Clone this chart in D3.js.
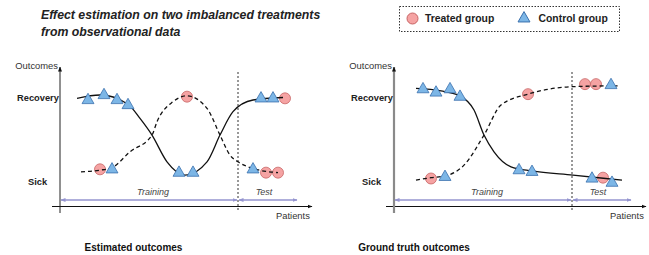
<!DOCTYPE html>
<html>
<head>
<meta charset="utf-8">
<script src="https://cdn.jsdelivr.net/npm/d3@7"></script>
<style>
  body { margin: 0; background: #fff; }
  svg { font-family: "Liberation Sans", Arial, Helvetica, sans-serif; display: block; }
</style>
</head>
<body>
<svg width="649" height="255"></svg>
<script>
// outcome: 0 = Sick, 1 = Recovery ; x = patient position along the axis
var yLabels = ["Sick", "Recovery"];
var panelTitles = ["Estimated outcomes", "Ground truth outcomes"];
var legendItems = ["Treated group", "Control group"];
var splitAt = 178;   // training / test boundary

// left panel: estimated
var estTreated = [[40, 0.14], [127, 1.01], [206, 0.10], [218, 0.10], [225, 0.99]];
var estControl = [[28, 0.98], [44, 1.04], [57, 0.98], [68, 0.92], [52, 0.15],
                  [119, 0.11], [133, 0.11], [193, 0.15], [201, 1.0], [213, 1.0]];
var estSolid = [[17, 0.99], [40, 1.03], [68, 0.92], [80, 0.75], [92, 0.55], [107, 0.23],
                [125, 0.07], [147, 0.23], [160, 0.55], [173, 0.83], [193, 0.97], [223, 1.0]];
var estDashed = [[21, 0.11], [40, 0.13], [52, 0.16], [70, 0.35], [92, 0.55], [97, 0.71],
                 [113, 0.95], [127, 1.02], [147, 0.87], [160, 0.55], [170, 0.31],
                 [178, 0.23], [193, 0.15], [218, 0.10]];

// right panel: ground truth
var trueTreated = [[37, 0.03], [134, 1.04], [191, 1.16], [202, 1.16], [209, 0.04]];
var trueControl = [[29, 1.11], [42, 1.07], [56, 1.11], [66, 1.02], [51, 0.06],
                   [125, 0.14], [138, 0.12], [217, 1.16], [198, 0.04], [218, -0.01]];
var trueSolid = [[22, 1.11], [47, 1.08], [66, 1.02], [80, 0.85], [90, 0.55], [100, 0.35],
                 [117, 0.17], [138, 0.12], [179, 0.07], [228, 0.01]];
var trueDashed = [[22, 0.01], [37, 0.04], [51, 0.06], [70, 0.19], [90, 0.55], [107, 0.91],
                  [134, 1.04], [179, 1.13], [225, 1.14]];

var svg = d3.select("svg");

var x = d3.scaleLinear().domain([0, 250]).range([60, 310]),
    y = d3.scaleLinear().domain([0, 1]).range([181, 97.5]);

var circleFill = "#f5a3a3", circleStroke = "#c86464",
    triFill = "#7cb6e6", triStroke = "#3a70ad",
    spanColor = "#9494cf";

var line = d3.line()
    .curve(d3.curveMonotoneX)
    .x(function(d) { return x(d[0]); })
    .y(function(d) { return y(d[1]); });

var tri = d3.symbol().type(d3.symbolTriangle).size(62);

var defs = svg.append("defs");
defs.append("marker").attr("id", "ax")
    .attr("viewBox", "0 0 10 10").attr("refX", 9).attr("refY", 5)
    .attr("markerWidth", 5).attr("markerHeight", 5).attr("orient", "auto")
    .attr("markerUnits", "userSpaceOnUse")
    .append("path").attr("d", "M0,1L10,5L0,9Z").attr("fill", "#111");
defs.append("marker").attr("id", "sp")
    .attr("viewBox", "0 0 10 10").attr("refX", 9).attr("refY", 5)
    .attr("markerWidth", 5).attr("markerHeight", 5).attr("orient", "auto-start-reverse")
    .attr("markerUnits", "userSpaceOnUse")
    .append("path").attr("d", "M0,1L10,5L0,9Z").attr("fill", spanColor);

// title
var title = svg.append("text")
    .attr("font-size", 12.3).attr("font-weight", "bold").attr("font-style", "italic")
    .attr("fill", "#222");
title.append("tspan").attr("x", 41).attr("y", 19).text("Effect estimation on two imbalanced treatments");
title.append("tspan").attr("x", 41).attr("y", 36).text("from observational data");

// legend
var lg = svg.append("g");
lg.append("rect").attr("x", 399.5).attr("y", 6.5).attr("width", 220).attr("height", 25)
    .attr("fill", "none").attr("stroke", "#333").attr("stroke-dasharray", "1.5,1.5");
lg.append("circle").attr("cx", 412.5).attr("cy", 18.5).attr("r", 5.5)
    .attr("fill", circleFill).attr("stroke", circleStroke);
lg.append("text").attr("x", 425).attr("y", 22.3).attr("font-size", 10.4).attr("font-weight", "bold")
    .attr("fill", "#222").text(legendItems[0]);
lg.append("path").attr("d", tri).attr("transform", "translate(524,18.5)")
    .attr("fill", triFill).attr("stroke", triStroke);
lg.append("text").attr("x", 538.5).attr("y", 22.3).attr("font-size", 10.4).attr("font-weight", "bold")
    .attr("fill", "#222").text(legendItems[1]);

function panel(offset, treated, control, solid, dashed, grayAxis) {
    var g = svg.append("g").attr("transform", "translate(" + offset + ",0)");
    var x0 = x.range()[0], x1 = x.range()[1];

    // axes
    g.append("line").attr("x1", x0 - 8).attr("x2", x1 + 2).attr("y1", 206.5).attr("y2", 206.5)
        .attr("stroke", "#111").attr("stroke-width", 1).attr("marker-end", "url(#ax)");
    g.append("line").attr("x1", x0).attr("x2", x0).attr("y1", 213).attr("y2", 67)
        .attr("stroke", grayAxis ? "#8a8a8a" : "#222").attr("stroke-width", grayAxis ? 2.2 : 1)
        .attr("marker-end", "url(#ax)");

    g.append("text").attr("x", x0 - 2).attr("y", 68.5).attr("text-anchor", "end")
        .attr("font-size", 9.4).attr("fill", "#333").text("Outcomes");
    g.append("text").attr("x", x1 - 34).attr("y", 218.5)
        .attr("font-size", 9.4).attr("fill", "#333").text("Patients");

    g.append("text").attr("x", x0 - 43).attr("y", y(1) + 3.5)
        .attr("font-size", 9.3).attr("font-weight", "bold").attr("fill", "#222").text(yLabels[1]);
    g.append("text").attr("x", x0 - 32).attr("y", y(0) + 3.5)
        .attr("font-size", 9.3).attr("font-weight", "bold").attr("fill", "#222").text(yLabels[0]);

    // train / test split
    g.append("line").attr("x1", x(splitAt)).attr("x2", x(splitAt)).attr("y1", 72).attr("y2", 212)
        .attr("stroke", "#333").attr("stroke-width", 1).attr("stroke-dasharray", "2,2");
    g.append("line").attr("x1", x(1)).attr("x2", x(splitAt) - 1).attr("y1", 200).attr("y2", 200)
        .attr("stroke", spanColor).attr("stroke-width", 1.3)
        .attr("marker-start", "url(#sp)").attr("marker-end", "url(#sp)");
    g.append("line").attr("x1", x(splitAt) + 1).attr("x2", x(237)).attr("y1", 200).attr("y2", 200)
        .attr("stroke", spanColor).attr("stroke-width", 1.3)
        .attr("marker-start", "url(#sp)").attr("marker-end", "url(#sp)");
    g.append("text").attr("x", x(93)).attr("y", 195).attr("text-anchor", "middle")
        .attr("font-size", 9).attr("font-style", "italic").attr("fill", "#444").text("Training");
    g.append("text").attr("x", x(204)).attr("y", 195).attr("text-anchor", "middle")
        .attr("font-size", 9).attr("font-style", "italic").attr("fill", "#444").text("Test");

    g.selectAll(".treated").data(treated).enter().append("circle")
        .attr("cx", function(d) { return x(d[0]); })
        .attr("cy", function(d) { return y(d[1]); })
        .attr("r", 5.5)
        .attr("fill", circleFill).attr("stroke", circleStroke).attr("stroke-width", 0.8);

    g.append("path").datum(solid).attr("d", line)
        .attr("fill", "none").attr("stroke", "#111").attr("stroke-width", 1.3);
    g.append("path").datum(dashed).attr("d", line)
        .attr("fill", "none").attr("stroke", "#111").attr("stroke-width", 1.3)
        .attr("stroke-dasharray", "4,3");

    g.selectAll(".control").data(control).enter().append("path")
        .attr("d", tri)
        .attr("transform", function(d) { return "translate(" + x(d[0]) + "," + (y(d[1]) + 1) + ")"; })
        .attr("fill", triFill).attr("stroke", triStroke).attr("stroke-width", 0.8);
}

panel(0, estTreated, estControl, estSolid, estDashed, false);
panel(334, trueTreated, trueControl, trueSolid, trueDashed, true);

// captions under the panels
svg.selectAll(".caption").data(panelTitles).enter().append("text")
    .attr("x", function(d, i) { return i === 0 ? 133.5 : 414; })
    .attr("y", 250.5).attr("text-anchor", "middle")
    .attr("font-size", 10).attr("font-weight", "bold").attr("fill", "#111")
    .text(function(d) { return d; });
</script>
</body>
</html>
